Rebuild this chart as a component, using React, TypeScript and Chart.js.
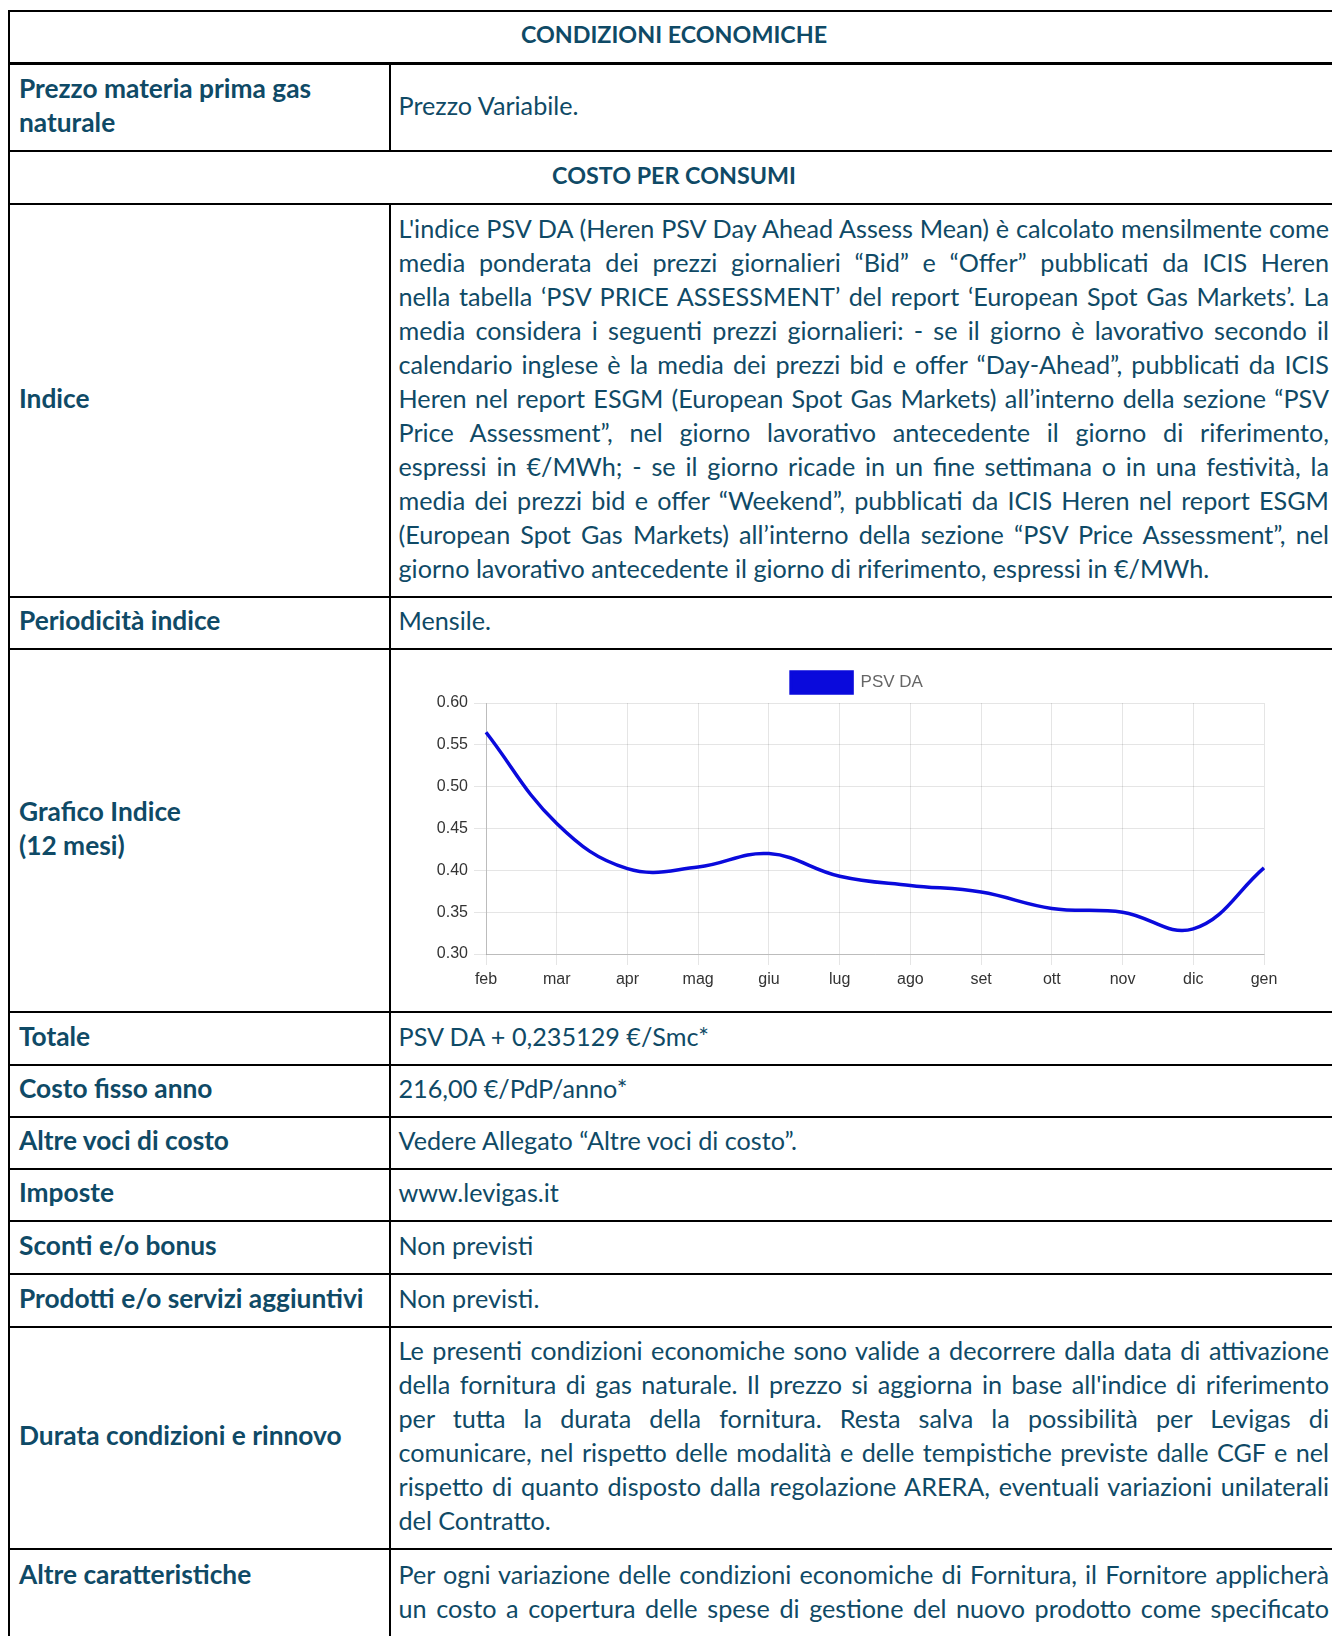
import React, { useEffect, useRef } from 'react';
import { Chart, registerables } from 'chart.js';

Chart.register(...registerables);

// ---------- chart data ----------
const months = ['feb', 'mar', 'apr', 'mag', 'giu', 'lug', 'ago', 'set', 'ott', 'nov', 'dic', 'gen'];
const psvDA = [0.565, 0.456, 0.402, 0.404, 0.42, 0.393, 0.382, 0.374, 0.3545, 0.35, 0.33, 0.403];
const seriesLabel = 'PSV DA';
const yMin = 0.3;
const yMax = 0.6;
const yStep = 0.05;

// ---------- table texts ----------
const indiceLines = [
  "L'indice PSV DA (Heren PSV Day Ahead Assess Mean) è calcolato mensilmente come",
  'media ponderata dei prezzi giornalieri “Bid” e “Offer” pubblicati da ICIS Heren',
  'nella tabella ‘PSV PRICE ASSESSMENT’ del report ‘European Spot Gas Markets’. La',
  'media considera i seguenti prezzi giornalieri: - se il giorno è lavorativo secondo il',
  'calendario inglese è la media dei prezzi bid e offer “Day-Ahead”, pubblicati da ICIS',
  'Heren nel report ESGM (European Spot Gas Markets) all’interno della sezione “PSV',
  'Price Assessment”, nel giorno lavorativo antecedente il giorno di riferimento,',
  'espressi in €/MWh; - se il giorno ricade in un fine settimana o in una festività, la',
  'media dei prezzi bid e offer “Weekend”, pubblicati da ICIS Heren nel report ESGM',
  '(European Spot Gas Markets) all’interno della sezione “PSV Price Assessment”, nel',
  'giorno lavorativo antecedente il giorno di riferimento, espressi in €/MWh.',
];
const durataLines = [
  'Le presenti condizioni economiche sono valide a decorrere dalla data di attivazione',
  "della fornitura di gas naturale. Il prezzo si aggiorna in base all'indice di riferimento",
  'per tutta la durata della fornitura. Resta salva la possibilità per Levigas di',
  'comunicare, nel rispetto delle modalità e delle tempistiche previste dalle CGF e nel',
  'rispetto di quanto disposto dalla regolazione ARERA, eventuali variazioni unilaterali',
  'del Contratto.',
];
const altreLines = [
  'Per ogni variazione delle condizioni economiche di Fornitura, il Fornitore applicherà',
  'un costo a copertura delle spese di gestione del nuovo prodotto come specificato',
];

// ---------- layout ----------
const TEXT = '#0f4a66';
const FONT = 'Lato, "Open Sans", sans-serif';
const BODY_SIZE = 25.2;
const LABEL_SIZE = 26.3;
const HEAD_SIZE = 23.3;
const LINE_H = 34;
const LEFT_X = 8;
const DIV_X = 389;
const RIGHT_X = 1338;
const hLines = [
  { y: 10, t: 2 },
  { y: 62, t: 3 },
  { y: 150, t: 2 },
  { y: 203, t: 2 },
  { y: 596, t: 2 },
  { y: 648, t: 2 },
  { y: 1011, t: 2 },
  { y: 1064, t: 2 },
  { y: 1116, t: 2 },
  { y: 1168, t: 2 },
  { y: 1220, t: 2 },
  { y: 1273, t: 2 },
  { y: 1326, t: 2 },
  { y: 1548, t: 2 },
];

function JustifiedLines({ lines, justifyLast }: { lines: string[]; justifyLast?: boolean }) {
  return (
    <div style={{ width: '100%' }}>
      {lines.map((l, i) => (
        <div
          key={i}
          style={{
            textAlign: 'justify',
            textAlignLast: i < lines.length - 1 || justifyLast ? 'justify' : 'left',
            lineHeight: LINE_H + 'px',
          }}
        >
          {l}
        </div>
      ))}
    </div>
  );
}

// lets the y tick labels draw into the left layout padding (not clipped)
const widenYLabelArea = {
  id: 'widenYLabelArea',
  afterLayout(chart: any) {
    const y = chart.scales.y;
    if (y) y.left = Math.max(0, y.right - 90);
  },
};

function PsvChart() {
  const ref = useRef<HTMLCanvasElement | null>(null);
  useEffect(() => {
    if (!ref.current) return;
    const tickFont = { family: '"Liberation Sans", Arial, sans-serif', size: 16 };
    const chart = new Chart(ref.current, {
      type: 'line',
      data: {
        labels: months,
        datasets: [
          {
            label: seriesLabel,
            data: psvDA,
            borderColor: '#0a0adc',
            backgroundColor: '#0a0adc',
            borderWidth: 3.5,
            fill: false,
            tension: 0.4,
            pointRadius: 0,
            pointHoverRadius: 0,
          },
        ],
      },
      options: {
        animation: false,
        responsive: false,
        maintainAspectRatio: false,
        layout: { padding: { top: 4, left: 50, right: 36, bottom: 0 } },
        plugins: {
          legend: {
            display: true,
            position: 'top',
            labels: {
              boxWidth: 61,
              boxHeight: 21,
              padding: 10,
              color: '#666',
              font: { family: '"Liberation Sans", Arial, sans-serif', size: 17 },
            },
          },
          tooltip: { enabled: false },
        },
        scales: {
          x: {
            grid: { color: 'rgba(0,0,0,0.1)', tickLength: 11 },
            border: { color: 'rgba(0,0,0,0.18)' },
            ticks: { color: '#333', font: tickFont, padding: 5, maxRotation: 0, autoSkip: false },
            afterFit: (s: any) => {
              s.height = 49;
            },
          },
          y: {
            min: yMin,
            max: yMax,
            grid: { color: 'rgba(0,0,0,0.1)', tickLength: 12 },
            border: { color: 'rgba(0,0,0,0.18)' },
            ticks: {
              stepSize: yStep,
              color: '#333',
              font: tickFont,
              padding: 6,
              callback: (v: any) => Number(v).toFixed(2),
            },
            afterFit: (s: any) => {
              s.width = 36;
            },
          },
        },
      },
      plugins: [widenYLabelArea],
    } as any);
    return () => chart.destroy();
  }, []);
  return (
    <canvas
      ref={ref}
      width={900}
      height={345}
      style={{ position: 'absolute', left: 400, top: 658, width: 900, height: 345 }}
    />
  );
}

type Row = {
  full?: boolean;
  left?: React.ReactNode;
  right?: React.ReactNode;
  align?: 'center' | 'top';
};

export default function App() {
  const rows: Row[] = [
    { full: true, left: 'CONDIZIONI ECONOMICHE' },
    {
      left: (
        <>
          Prezzo materia prima gas
          <br />
          naturale
        </>
      ),
      right: 'Prezzo Variabile.',
    },
    { full: true, left: 'COSTO PER CONSUMI' },
    { left: 'Indice', right: <JustifiedLines lines={indiceLines} /> },
    { left: 'Periodicità indice', right: 'Mensile.' },
    {
      left: (
        <>
          Grafico Indice
          <br />
          (12 mesi)
        </>
      ),
      right: null,
    },
    { left: 'Totale', right: 'PSV DA + 0,235129 €/Smc*' },
    { left: 'Costo fisso anno', right: '216,00 €/PdP/anno*' },
    { left: 'Altre voci di costo', right: 'Vedere Allegato “Altre voci di costo”.' },
    { left: 'Imposte', right: 'www.levigas.it' },
    { left: 'Sconti e/o bonus', right: 'Non previsti' },
    { left: 'Prodotti e/o servizi aggiuntivi', right: 'Non previsti.' },
    { left: 'Durata condizioni e rinnovo', right: <JustifiedLines lines={durataLines} /> },
    { left: 'Altre caratteristiche', right: <JustifiedLines lines={altreLines} justifyLast />, align: 'top' },
  ];

  const cells: React.ReactNode[] = [];
  rows.forEach((r, i) => {
    const top = hLines[i].y + hLines[i].t;
    const bottom = i + 1 < hLines.length ? hLines[i + 1].y : 1720;
    const h = bottom - top;
    const alignItems = r.align === 'top' ? 'flex-start' : 'center';
    const padTop = r.align === 'top' ? 7 : 0;
    const padBottom = r.align === 'top' ? 0 : 6;
    if (r.full) {
      cells.push(
        <div
          key={'f' + i}
          style={{
            position: 'absolute',
            left: LEFT_X + 2,
            top,
            width: RIGHT_X - LEFT_X - 2,
            height: h,
            display: 'flex',
            alignItems: 'center',
            justifyContent: 'center',
            fontWeight: 700,
            fontSize: HEAD_SIZE,
            lineHeight: LINE_H + 'px',
            paddingBottom: 6,
            boxSizing: 'border-box',
          }}
        >
          {r.left}
        </div>
      );
    } else {
      cells.push(
        <div
          key={'l' + i}
          style={{
            position: 'absolute',
            left: LEFT_X + 2,
            top,
            width: DIV_X - LEFT_X - 2,
            height: h,
            display: 'flex',
            alignItems,
            paddingLeft: 9,
            paddingTop: padTop,
            paddingBottom: padBottom,
            boxSizing: 'border-box',
            fontWeight: 700,
            fontSize: LABEL_SIZE,
            lineHeight: LINE_H + 'px',
            whiteSpace: 'nowrap',
          }}
        >
          <div>{r.left}</div>
        </div>
      );
      if (r.right !== null) {
        cells.push(
          <div
            key={'r' + i}
            style={{
              position: 'absolute',
              left: DIV_X + 2,
              top,
              width: RIGHT_X - DIV_X - 2,
              height: h,
              display: 'flex',
              alignItems,
              paddingLeft: 7.5,
              paddingRight: 9,
              paddingTop: padTop,
              paddingBottom: padBottom,
              boxSizing: 'border-box',
              fontSize: BODY_SIZE,
              lineHeight: LINE_H + 'px',
            }}
          >
            {typeof r.right === 'string' ? <div>{r.right}</div> : r.right}
          </div>
        );
      }
    }
  });

  return (
    <div
      style={{
        position: 'relative',
        width: 1332,
        height: 1636,
        overflow: 'hidden',
        background: '#fff',
        fontFamily: FONT,
        color: TEXT,
      }}
    >
      <style>{'html,body{margin:0;padding:0;overflow:hidden;background:#fff}'}</style>
      {cells}
      {hLines.map((l, i) => (
        <div
          key={'h' + i}
          style={{ position: 'absolute', left: LEFT_X, top: l.y, width: RIGHT_X - LEFT_X + 2, height: l.t, background: '#000' }}
        />
      ))}
      <div style={{ position: 'absolute', left: LEFT_X, top: 10, width: 2, height: 1720, background: '#000' }} />
      <div style={{ position: 'absolute', left: RIGHT_X, top: 10, width: 2, height: 1720, background: '#000' }} />
      <div style={{ position: 'absolute', left: DIV_X, top: 65, width: 2, height: 150 - 65, background: '#000' }} />
      <div style={{ position: 'absolute', left: DIV_X, top: 205, width: 2, height: 1720, background: '#000' }} />
      <PsvChart />
    </div>
  );
}
